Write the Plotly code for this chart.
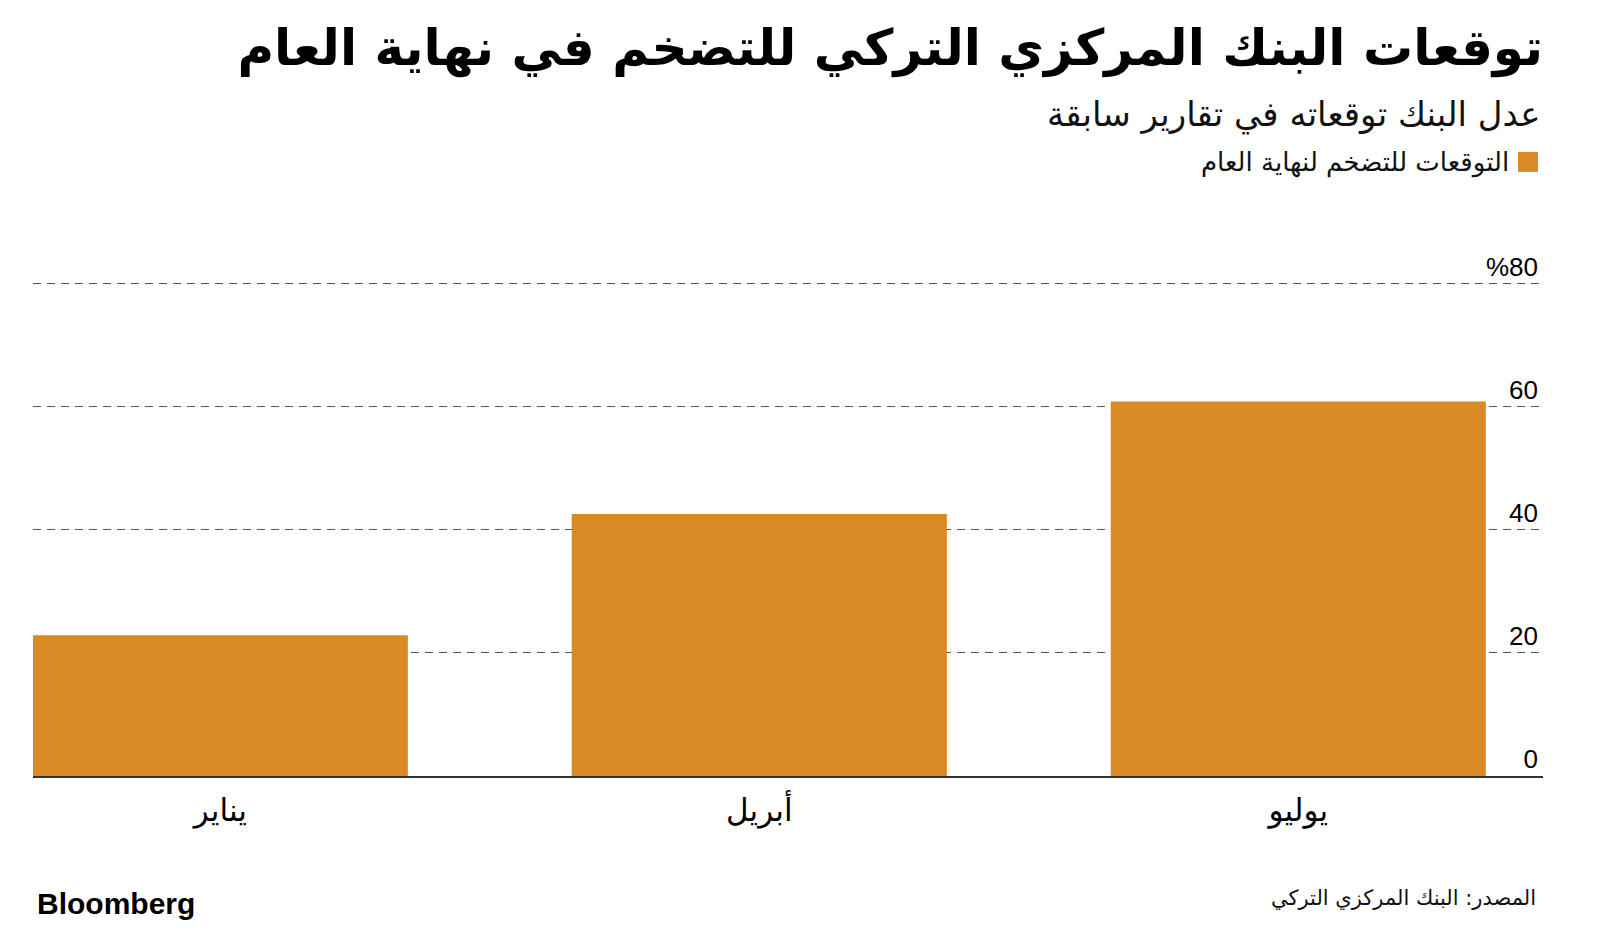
import plotly.graph_objects as go

# Data
months = ["يناير", "أبريل", "يوليو"]
forecast = [22.9, 42.6, 60.9]
tick_vals = [0, 20, 40, 60, 80]
tick_text = ["0", "20", "40", "60", "%80"]

title_text = "توقعات البنك المركزي التركي للتضخم في نهاية العام"
subtitle_text = "عدل البنك توقعاته في تقارير سابقة"
legend_text = "التوقعات للتضخم لنهاية العام"
source_text = "المصدر: البنك المركزي التركي"

BAR = "#D98A26"
AR_FONT = "DejaVu Sans"
NUM_FONT = "Liberation Sans"

Y_MAX = 86
PX_PER_UNIT = 6.15
TOP = 776 - Y_MAX * PX_PER_UNIT
PLOT_H = 776 - TOP

fig = go.Figure()
fig.add_trace(go.Bar(x=months, y=forecast, marker=dict(color=BAR, line=dict(width=0)),
                     name=legend_text, showlegend=False, hoverinfo="x+y"))

def py(pix):
    return (776 - pix) / PLOT_H

def px(pix):
    return (pix - 33) / 1510

fig.update_layout(
    width=1600, height=932, autosize=False,
    margin=dict(l=33, r=57, t=TOP, b=156, pad=0),
    paper_bgcolor="white", plot_bgcolor="white",
    bargap=0.304,
    title=dict(text="<b>" + title_text + "</b>", x=1, xref="paper", xanchor="right",
               y=1 - 30 / 932, yref="container", yanchor="top",
               font=dict(family=AR_FONT, size=50, color="#000")),
    xaxis=dict(type="category", range=[-0.3475, 2.454], showgrid=False,
               showline=True, linecolor="#333", linewidth=1.5,
               ticks="", tickfont=dict(family=AR_FONT, size=31, color="#000"),
               ticklabelstandoff=6, fixedrange=True),
    yaxis=dict(range=[0, Y_MAX], side="right", tickvals=tick_vals, ticktext=tick_text,
               showgrid=True, gridcolor="#555", gridwidth=1, griddash="8px,6px",
               zeroline=False, showline=False, ticks="",
               ticklabelposition="inside", ticklabelshift=-17, ticklabelstandoff=2,
               tickfont=dict(family=NUM_FONT, size=26, color="#000"), fixedrange=True),
)

# Subtitle
fig.add_annotation(text=subtitle_text, xref="paper", yref="paper", x=1, y=py(92),
                   xanchor="right", yanchor="top", showarrow=False,
                   font=dict(family=AR_FONT, size=34, color="#111"))
# Legend text + swatch
fig.add_annotation(text=legend_text, xref="paper", yref="paper", x=px(1511),
                   y=py(163), xanchor="right", yanchor="middle", showarrow=False,
                   font=dict(family=AR_FONT, size=26, color="#111"))
fig.add_shape(type="rect", xref="paper", yref="paper",
              x0=px(1518), x1=px(1538), y0=py(172), y1=py(152),
              fillcolor=BAR, line=dict(width=0))
# Source
fig.add_annotation(text=source_text, xref="paper", yref="paper", x=px(1538),
                   y=py(898), xanchor="right", yanchor="middle", showarrow=False,
                   font=dict(family=AR_FONT, size=21, color="#111"))
# Bloomberg logo text
fig.add_annotation(text="<b>Bloomberg</b>", xref="paper", yref="paper", x=px(35),
                   y=py(903), xanchor="left", yanchor="middle", showarrow=False,
                   font=dict(family=NUM_FONT, size=30, color="#000"))

fig.write_html("out.html")
